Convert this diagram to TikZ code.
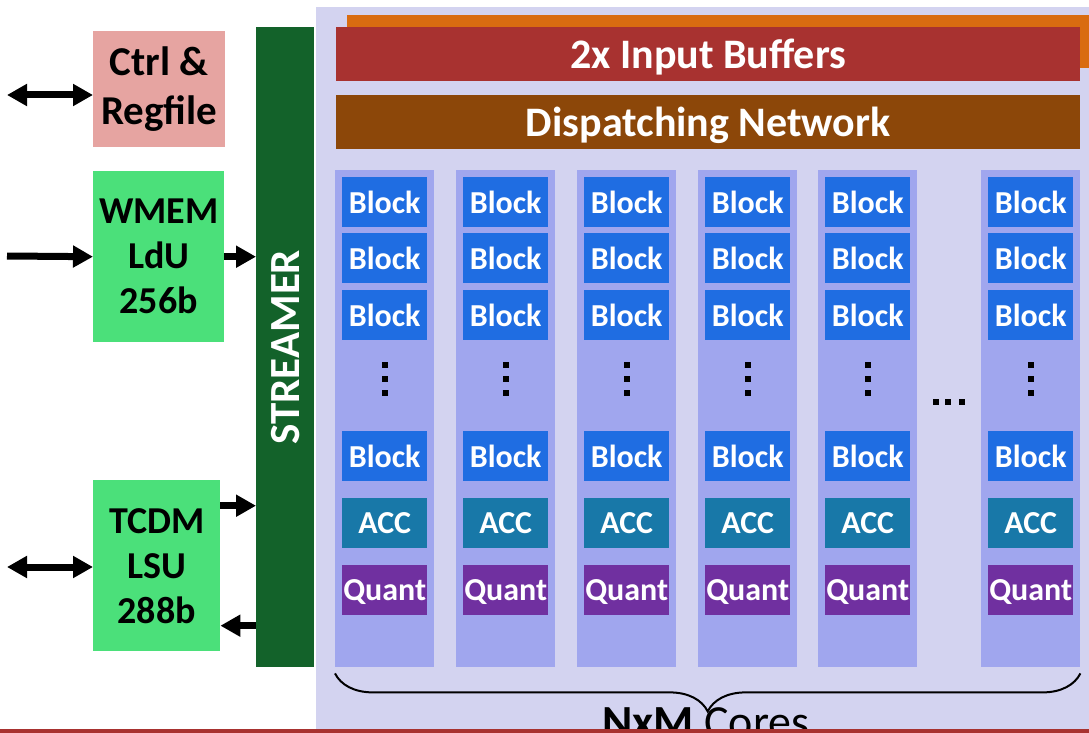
\documentclass[tikz,border=0pt]{standalone}
\usepackage{fontspec}
\setmainfont{Carlito}
\usetikzlibrary{arrows.meta,calc,decorations.pathreplacing}
\definecolor{ctrlpink}{HTML}{E6A4A1}
\definecolor{ldugreen}{HTML}{4BE07A}
\definecolor{streamgreen}{HTML}{13622A}
\definecolor{panelfill}{HTML}{D3D3F0}
\definecolor{buforange}{HTML}{D96C11}
\definecolor{bufred}{HTML}{A83230}
\definecolor{netbrown}{HTML}{8C4709}
\definecolor{colfill}{HTML}{A0A6EE}
\definecolor{blockblue}{HTML}{1F6DE2}
\definecolor{accteal}{HTML}{1878A8}
\definecolor{quantpurple}{HTML}{7030A0}
\tikzset{
  box/.style={anchor=north west, inner sep=0pt, align=center},
  unit/.style={box, font=\bfseries\fontsize{38}{45}\selectfont},
  bar/.style={box, minimum width=744pt, minimum height=54pt, text=white, text depth=0pt,
    font=\bfseries\fontsize{42}{48}\selectfont},
  cell/.style={box, minimum width=85pt, minimum height=50pt, text=white, text depth=0pt,
    font=\bfseries\fontsize{32}{38}\selectfont},
  bus/.style={line width=7pt, >={Triangle[length=20pt,width=21pt]}}
}
\begin{document}
\begin{tikzpicture}[x=1pt,y=-1pt]
    \clip (0,0) rectangle (1089,733);
    % core array panel
    \fill[panelfill] (316,7) rectangle (1089,733);
    \fill[buforange] (347,15) rectangle (1089,68);
    \node[bar, fill=bufred] (buf) at (336,27) {2x Input Buffers};
    \node[bar, fill=netbrown] (net) at (336,95) {Dispatching Network};

    % cores
    \foreach \c [count=\i] in {335,456,577,698,818,981} {
        \node[box, fill=colfill, minimum width=99pt, minimum height=497pt] (col\i) at (\c,170) {};
        \foreach \r [count=\j] in {177,233,290,431}
            \node[cell, fill=blockblue] (b\i\j) at (\c+7,\r) {Block};
        \node[cell, fill=accteal] (acc\i) at (\c+7,498) {ACC};
        \node[cell, fill=quantpurple] (q\i) at (\c+7,565) {Quant};
        \foreach \d in {365,379,393} \fill (\c+46.5,\d-3) rectangle ++(6,6);
    }
    \foreach \d in {936,948,962} \fill (\d-3,399) rectangle ++(6,6);

    % left side units
    \node[unit, fill=ctrlpink, minimum width=132pt, minimum height=116pt,
        font=\bfseries\fontsize{41}{49}\selectfont] (ctrl) at (93,31) {Ctrl \&\\Regfile};
    \node[unit, fill=ldugreen, minimum width=131pt, minimum height=171pt] (wmem) at (93,171) {WMEM\\LdU\\256b};
    \node[unit, fill=ldugreen, minimum width=127pt, minimum height=171pt] (tcdm) at (93,480) {TCDM\\LSU\\288b};
    \node[box, fill=streamgreen, minimum width=58pt, minimum height=640pt] (streamer) at (256,27) {};
    \node[rotate=90, text=white, font=\bfseries\fontsize{43}{50}\selectfont] at (streamer.center) {STREAMER};

    % connections
    \coordinate (ctrlio) at (7,95); \coordinate (wmemin) at (7,256); \coordinate (tcdmio) at (7,567);
    \draw[bus, <->] (ctrlio) -- (ctrlio -| ctrl.west);
    \draw[bus, ->] (wmemin) -- (wmem.west);
    \draw[bus, ->] (wmem.east) -- (wmem.east -| streamer.west);
    \draw[bus, <->] (tcdmio) -- (tcdmio -| tcdm.west);
    \coordinate (tup) at ($(tcdm.north east)!0.15!(tcdm.south east)$);
    \coordinate (tdn) at ($(tcdm.north east)!0.85!(tcdm.south east)$);
    \draw[bus, ->] (tup) -- (tup -| streamer.west);
    \draw[bus, ->] (tdn -| streamer.west) -- (tdn);

    % brace
    \draw[line width=2pt, decorate, decoration={brace, mirror, amplitude=38pt}]
        ($(col1.south west)+(0,6)$) -- ($(col6.south east)+(0,6)$);
    \node[anchor=base, inner sep=0pt, font=\fontsize{46}{54}\selectfont] (cores) at (706,737) {\textbf{NxM} Cores};
    \fill[bufred] (0,729) rectangle (1089,733);
\end{tikzpicture}
\end{document}
